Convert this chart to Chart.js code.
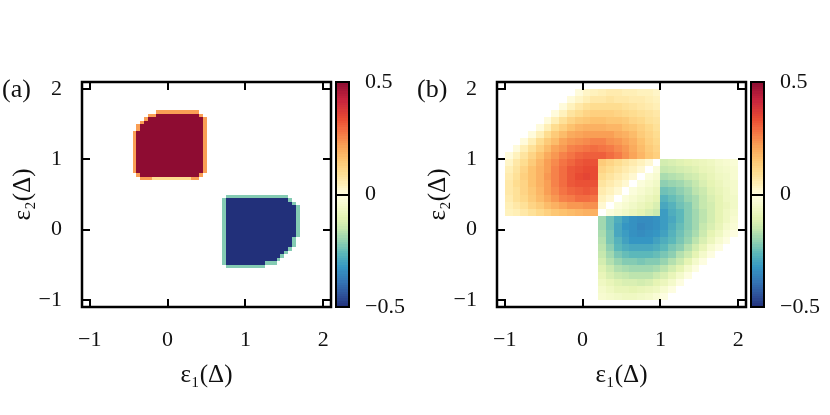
<!DOCTYPE html>
<html>
<head>
<meta charset="utf-8">
<script src="https://cdn.jsdelivr.net/npm/chart.js@4.4.1/dist/chart.umd.min.js"></script>
<style>
  html, body { margin: 0; padding: 0; background: #fff; }
  #wrap { position: relative; width: 830px; height: 415px; overflow: hidden; }
  #wrap canvas { position: absolute; top: 0; }
</style>
</head>
<body>
<div id="wrap">
  <canvas id="panelA" width="415" height="415" style="left:0"></canvas>
  <canvas id="panelB" width="415" height="415" style="left:415px"></canvas>
</div>
<script>
// ---- data ----
const axisTicks = [-1, 0, 1, 2];
const colorbarTicks = [-0.5, 0, 0.5];

// colour map (value -> colour), navy at -0.5, cream at 0, dark red at 0.5
const cmapValues = [-0.5, -0.44, -0.38, -0.32, -0.26, -0.2, -0.15, -0.1, -0.04, 0,
                    0.04, 0.1, 0.16, 0.22, 0.28, 0.34, 0.42, 0.5];
const cmapColors = ['#22307a', '#2f559c', '#3478b6', '#3596c3', '#5cb8ba', '#98d4b0', '#c6e8ae', '#e6f4b4', '#f7fbd0', '#fffee5',
                    '#fff2bd', '#fedd90', '#fdc26e', '#f99f55', '#f47444', '#e84a33', '#c8253e', '#8e0c32'];

// panel (a): two blocks on a 0.05 grid, one letter per cell
const levelKeys   = ['.', 'y', 'o', 'R', 'l', 'g', 'B'];
const levelValues = [0, 0.1, 0.22, 0.5, -0.1, -0.22, -0.5];
const blockStep = 0.05;
const redBlockCorner = [-0.45, 1.70];   // left x, top y
const redBlockRows = [
  '......ooooooooooo..',
  '....ooRRRRRRRRRRRo.',
  '...oRRRRRRRRRRRRRRo',
  '..oRRRRRRRRRRRRRRRo',
  '.oRRRRRRRRRRRRRRRRo',
  '.oRRRRRRRRRRRRRRRRo',
  'oRRRRRRRRRRRRRRRRRo',
  'oRRRRRRRRRRRRRRRRRo',
  'oRRRRRRRRRRRRRRRRRo',
  'oRRRRRRRRRRRRRRRRRo',
  'oRRRRRRRRRRRRRRRRRo',
  'oRRRRRRRRRRRRRRRRRo',
  'oRRRRRRRRRRRRRRRRRo',
  'oRRRRRRRRRRRRRRRRRo',
  'oRRRRRRRRRRRRRRRRRo',
  'oRRRRRRRRRRRRRRRRRo',
  'oRRRRRRRRRRRRRRRRRo',
  'oRRRRRRRRRRRRRRRRRo',
  '.oRRRRRRRRRRRRRRRo.',
  '..oooyyyyyyyyyyoo..'
];
const blueBlockCorner = [0.70, 0.50];
const blueBlockRows = [
  '.gggggggggggggggg...',
  'gBBBBBBBBBBBBBBBBg..',
  'gBBBBBBBBBBBBBBBBBg.',
  'gBBBBBBBBBBBBBBBBBBg',
  'gBBBBBBBBBBBBBBBBBBg',
  'gBBBBBBBBBBBBBBBBBBg',
  'gBBBBBBBBBBBBBBBBBBg',
  'gBBBBBBBBBBBBBBBBBBg',
  'gBBBBBBBBBBBBBBBBBBg',
  'gBBBBBBBBBBBBBBBBBBg',
  'gBBBBBBBBBBBBBBBBBBg',
  'gBBBBBBBBBBBBBBBBBBg',
  'gBBBBBBBBBBBBBBBBBg.',
  'gBBBBBBBBBBBBBBBBBg.',
  'gBBBBBBBBBBBBBBBBBg.',
  'gBBBBBBBBBBBBBBBBg..',
  'gBBBBBBBBBBBBBBBg...',
  'gBBBBBBBBBBBBBBg....',
  'gBBBBBBBBBBBBBg.....',
  'gBBBBBBBBBBggg......',
  '.gggggggggg.........'
];

// panel (b): values in hundredths on a 0.1 grid
const fieldStep = 0.1;
const redFieldCorner = [-1.0, 2.0];   // 20 columns, 18 rows
const redFieldRows = [
  [0,0,0,0,0,0,0,0,0,1,3,4,5,6,6,5,5,4,4,3],
  [0,0,0,0,0,0,0,0,1,3,5,7,7,8,7,7,6,6,5,4],
  [0,0,0,0,0,0,0,1,4,7,9,10,10,10,10,9,8,7,6,5],
  [0,0,0,0,0,0,1,4,8,10,12,13,13,13,12,11,10,9,8,7],
  [0,0,0,0,0,1,5,9,12,14,15,16,16,15,15,14,12,11,9,8],
  [0,0,0,0,1,5,10,13,16,18,19,19,19,18,18,16,15,13,11,9],
  [0,0,0,1,5,10,14,17,20,21,22,22,22,22,20,19,17,14,12,10],
  [0,0,1,5,10,14,17,21,23,24,25,26,26,24,23,21,19,16,13,11],
  [0,1,5,9,13,17,21,23,26,27,28,29,28,27,25,23,20,17,14,12],
  [1,4,8,12,16,20,23,26,28,30,31,31,31,29,27,24,21,18,15,13],
  [3,7,10,14,18,22,25,28,30,32,33,33,14,12,10,8,6,4,2,0],
  [5,8,12,16,19,22,26,29,32,33,34,34,12,10,8,6,4,2,0,0],
  [6,9,13,16,19,23,26,29,32,34,35,34,10,8,6,4,2,0,0,0],
  [7,10,12,16,19,22,26,29,32,33,33,33,8,6,4,2,0,0,0,0],
  [7,9,12,15,18,22,25,28,30,31,32,31,6,4,2,0,0,0,0,0],
  [6,9,11,14,17,20,23,26,27,29,29,28,4,2,0,0,0,0,0,0],
  [5,7,9,12,14,17,19,21,23,23,24,24,2,0,0,0,0,0,0,0],
  [4,5,7,9,11,13,15,16,17,18,19,19,0,0,0,0,0,0,0,0]
];
const blueFieldCorner = [0.2, 1.0];   // 18 columns, 20 rows
const blueFieldRows = [
  [0,0,0,0,0,0,0,0,-13,-12,-11,-10,-9,-8,-7,-5,-4,-3],
  [0,0,0,0,0,0,0,-2,-15,-14,-13,-12,-11,-9,-8,-6,-5,-4],
  [0,0,0,0,0,0,-2,-4,-18,-17,-16,-14,-13,-11,-9,-7,-6,-4],
  [0,0,0,0,0,-2,-4,-6,-21,-20,-19,-17,-15,-12,-10,-8,-6,-5],
  [0,0,0,0,-2,-4,-6,-8,-24,-23,-21,-19,-16,-14,-11,-9,-7,-5],
  [0,0,0,-2,-4,-6,-8,-10,-27,-25,-23,-20,-18,-15,-12,-10,-7,-6],
  [0,0,-2,-4,-6,-8,-10,-12,-29,-27,-24,-22,-18,-15,-13,-10,-8,-6],
  [0,-2,-4,-6,-8,-10,-12,-14,-31,-28,-26,-22,-19,-16,-13,-10,-7,-5],
  [-19,-24,-28,-31,-33,-34,-34,-33,-31,-29,-26,-22,-19,-16,-13,-10,-7,-4],
  [-19,-24,-29,-32,-33,-35,-34,-33,-31,-28,-25,-22,-19,-15,-12,-9,-5,-3],
  [-18,-23,-29,-31,-33,-34,-33,-32,-30,-27,-24,-21,-18,-14,-10,-7,-3,-1],
  [-17,-23,-27,-30,-32,-32,-32,-30,-28,-26,-23,-20,-16,-12,-8,-4,-1,0],
  [-16,-21,-26,-28,-29,-29,-29,-28,-26,-23,-21,-17,-13,-9,-4,-1,0,0],
  [-15,-19,-23,-25,-26,-26,-26,-25,-23,-21,-17,-14,-10,-5,-1,0,0,0],
  [-13,-17,-20,-22,-22,-23,-22,-22,-20,-17,-14,-10,-5,-1,0,0,0,0],
  [-11,-14,-17,-18,-19,-19,-19,-18,-16,-13,-10,-5,-1,0,0,0,0,0],
  [-9,-12,-14,-15,-16,-16,-16,-14,-12,-9,-5,-1,0,0,0,0,0,0],
  [-7,-9,-11,-12,-12,-13,-12,-10,-8,-5,-1,0,0,0,0,0,0,0],
  [-5,-7,-9,-9,-10,-9,-8,-7,-4,-1,0,0,0,0,0,0,0,0],
  [-4,-5,-6,-7,-7,-6,-5,-3,-1,0,0,0,0,0,0,0,0,0]
];

// ---- helpers ----
function hexToRgb(h) {
  return [parseInt(h.slice(1, 3), 16), parseInt(h.slice(3, 5), 16), parseInt(h.slice(5, 7), 16)];
}
const cmapRgb = cmapColors.map(hexToRgb);

function colorFor(v) {
  if (v <= cmapValues[0]) return cmapColors[0];
  if (v >= cmapValues[cmapValues.length - 1]) return cmapColors[cmapColors.length - 1];
  let i = 1;
  while (cmapValues[i] < v) i++;
  const t = (v - cmapValues[i - 1]) / (cmapValues[i] - cmapValues[i - 1]);
  const a = cmapRgb[i - 1], b = cmapRgb[i];
  return 'rgb(' + a.map((c, k) => Math.round(c + (b[k] - c) * t)).join(',') + ')';
}

// turn a grid into cells {x, y, v} (cell centres)
function cellsFromLetters(rows, corner, step) {
  const out = [];
  rows.forEach((row, j) => {
    row.split('').forEach((ch, i) => {
      const v = levelValues[levelKeys.indexOf(ch)];
      if (v) out.push({ x: corner[0] + (i + 0.5) * step, y: corner[1] - (j + 0.5) * step, v: v });
    });
  });
  return out;
}
function cellsFromNumbers(rows, corner, step) {
  const out = [];
  rows.forEach((row, j) => {
    row.forEach((n, i) => {
      if (n) out.push({ x: corner[0] + (i + 0.5) * step, y: corner[1] - (j + 0.5) * step, v: n / 100 });
    });
  });
  return out;
}

const minusFmt = v => (v < 0 ? '\u2212' + Math.abs(v) : String(v));

Chart.defaults.font.family = '"Liberation Serif", "DejaVu Serif", serif';
Chart.defaults.font.size = 22;
Chart.defaults.color = '#111';

// Heatmap cells drawn through the chart's scales
const heatmapPlugin = {
  id: 'heatmap',
  beforeDatasetsDraw(chart) {
    const { ctx, chartArea: a, scales: { x, y } } = chart;
    ctx.save();
    ctx.beginPath();
    ctx.rect(a.left, a.top, a.width, a.height);
    ctx.clip();
    chart.data.datasets.forEach(ds => {
      const h = ds.cellSize / 2;
      ds.data.forEach(c => {
        const x0 = Math.round(x.getPixelForValue(c.x - h));
        const x1 = Math.round(x.getPixelForValue(c.x + h));
        const y0 = Math.round(y.getPixelForValue(c.y + h));
        const y1 = Math.round(y.getPixelForValue(c.y - h));
        ctx.fillStyle = colorFor(c.v);
        ctx.fillRect(x0, y0, x1 - x0, y1 - y0);
      });
    });
    ctx.restore();
  }
};

// Frame, inward ticks, colour bar and panel letter
const framePlugin = {
  id: 'frame',
  afterDraw(chart, args, opts) {
    const { ctx, chartArea: a, scales: { x, y, cb } } = chart;
    ctx.save();
    ctx.strokeStyle = '#000';
    ctx.lineWidth = 2;
    ctx.beginPath();
    axisTicks.forEach(v => {
      const px = Math.round(x.getPixelForValue(v));
      ctx.moveTo(px, a.bottom); ctx.lineTo(px, a.bottom - 8);
      ctx.moveTo(px, a.top); ctx.lineTo(px, a.top + 8);
      const py = Math.round(y.getPixelForValue(v));
      ctx.moveTo(a.left, py); ctx.lineTo(a.left + 8, py);
      ctx.moveTo(a.right, py); ctx.lineTo(a.right - 8, py);
    });
    ctx.stroke();
    ctx.lineWidth = 2.5;
    ctx.strokeRect(a.left, a.top, a.width, a.height);

    // colour bar
    const bx = a.right + 5, bw = 13, n = 100;
    for (let k = 0; k < n; k++) {
      const v0 = cb.min + (cb.max - cb.min) * k / n;
      const v1 = cb.min + (cb.max - cb.min) * (k + 1) / n;
      const yA = cb.getPixelForValue(v1), yB = cb.getPixelForValue(v0);
      ctx.fillStyle = colorFor((v0 + v1) / 2);
      ctx.fillRect(bx, Math.floor(yA), bw, Math.ceil(yB) - Math.floor(yA));
    }
    ctx.lineWidth = 2;
    ctx.strokeRect(bx, cb.top, bw, cb.bottom - cb.top);
    const y0 = Math.round(cb.getPixelForValue(0));
    ctx.beginPath();
    ctx.moveTo(bx, y0); ctx.lineTo(bx + bw, y0);
    ctx.stroke();

    // panel letter
    ctx.fillStyle = '#111';
    ctx.font = '26px "Liberation Serif", "DejaVu Serif", serif';
    ctx.textBaseline = 'middle';
    ctx.fillText(opts.text, 2, 90);
    ctx.restore();
  }
};

function makePanel(canvasId, letter, cells) {
  const tickFont = { size: 22 };
  const titleFont = { size: 25 };
  return new Chart(document.getElementById(canvasId), {
    type: 'scatter',
    data: {
      datasets: cells.map(c => ({ data: c.data, cellSize: c.size, pointRadius: 0, showLine: false }))
    },
    plugins: [heatmapPlugin, framePlugin],
    options: {
      responsive: false,
      animation: false,
      events: [],
      layout: { padding: { top: 82, left: 0, right: 0, bottom: 0 } },
      plugins: { legend: { display: false }, tooltip: { enabled: false }, frame: { text: letter } },
      scales: {
        x: {
          type: 'linear', min: -1.1, max: 2.1,
          grid: { display: false, drawTicks: false }, border: { display: false },
          afterBuildTicks: s => { s.ticks = axisTicks.map(v => ({ value: v })); },
          afterFit: s => { s.height = 108; },
          ticks: { padding: 20, font: tickFont, callback: minusFmt, maxRotation: 0, autoSkip: false },
          title: { display: true, text: '\u03b5\u2081(\u0394)', font: titleFont, padding: { top: 0, bottom: 25 } }
        },
        y: {
          type: 'linear', position: 'left', min: -1.1, max: 2.1,
          grid: { display: false, drawTicks: false }, border: { display: false },
          afterBuildTicks: s => { s.ticks = axisTicks.map(v => ({ value: v })); },
          afterFit: s => { s.width = 82; },
          ticks: { padding: 20, font: tickFont, callback: minusFmt, autoSkip: false },
          title: { display: true, text: '\u03b5\u2082(\u0394)', font: titleFont, padding: { top: 8, bottom: 0 } }
        },
        cb: {
          type: 'linear', position: 'right', min: -0.5, max: 0.5,
          grid: { display: false, drawTicks: false }, border: { display: false },
          afterBuildTicks: s => { s.ticks = colorbarTicks.map(v => ({ value: v })); },
          afterFit: s => { s.width = 84; },
          ticks: { padding: 34, font: tickFont, callback: minusFmt, autoSkip: false }
        }
      }
    }
  });
}

makePanel('panelA', '(a)', [
  { data: cellsFromLetters(redBlockRows, redBlockCorner, blockStep), size: blockStep },
  { data: cellsFromLetters(blueBlockRows, blueBlockCorner, blockStep), size: blockStep }
]);
makePanel('panelB', '(b)', [
  { data: cellsFromNumbers(redFieldRows, redFieldCorner, fieldStep), size: fieldStep },
  { data: cellsFromNumbers(blueFieldRows, blueFieldCorner, fieldStep), size: fieldStep }
]);
</script>
</body>
</html>
